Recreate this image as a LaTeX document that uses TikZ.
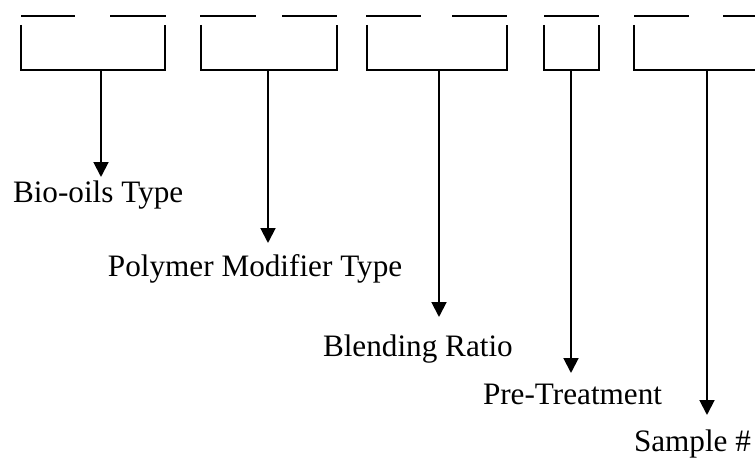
\documentclass[tikz,border=0pt]{standalone}
\usepackage{fontspec}
\setmainfont{Liberation Serif}
\usetikzlibrary{positioning, arrows.meta}

\begin{document}
\begin{tikzpicture}[x=0.375pt, y=-0.375pt, line width=0.75pt,
      >={Triangle[length=5.6pt, width=5.6pt]},
      label/.style={anchor=base west, inner sep=0pt, font=\fontsize{11.7}{14}\selectfont},
      blank/.style={line cap=butt}]
      \useasboundingbox (0,0) rectangle (755,459);
      \clip (0,0) rectangle (755,459);
      % blanks on top
      \draw[blank] (21,16) -- (75,16) (110,16) -- (166,16);
      \draw[blank] (200,16) -- (256,16) (282,16) -- (337,16);
      \draw[blank] (366,16) -- (421,16) (452,16) -- (507,16);
      \draw[blank] (544,16) -- (599,16);
      \draw[blank] (634,16) -- (689,16) (723,16) -- (778,16);
      % brackets
      \draw (21,25) -- (21,70) -- (165,70) -- (165,25);
      \draw (201,25) -- (201,70) -- (337,70) -- (337,25);
      \draw (367,25) -- (367,70) -- (507,70) -- (507,25);
      \draw (544,25) -- (544,70) -- (599,70) -- (599,25);
      \draw (634,25) -- (634,70) -- (778,70) -- (778,25);
      % stems and tips
      \coordinate (s_1) at (101,70);  \coordinate (t_1) at (101,177);
      \coordinate (s_2) at (268,70);  \coordinate (t_2) at (268,243);
      \coordinate (s_3) at (439,70);  \coordinate (t_3) at (439,317);
      \coordinate (s_4) at (571,70);  \coordinate (t_4) at (571,373);
      \coordinate (s_5) at (707,70);  \coordinate (t_5) at (707,415);
      % labels
      \node[label] (bio) at (12,203) {Bio-oils Type};
      \node[label] (poly) at (107,277) {Polymer Modifier Type};
      \node[label] (blend) at (322,357) {Blending Ratio};
      \node[label] (pre) at (482,405) {Pre-Treatment};
      \node[label] (sample) at (633,452) {Sample \#};
      \path[->] (s_1) edge (t_1);
      \path[->] (s_2) edge (t_2);
      \path[->] (s_3) edge (t_3);
      \path[->] (s_4) edge (t_4);
      \path[->] (s_5) edge (t_5);
  \end{tikzpicture}
\end{document}
